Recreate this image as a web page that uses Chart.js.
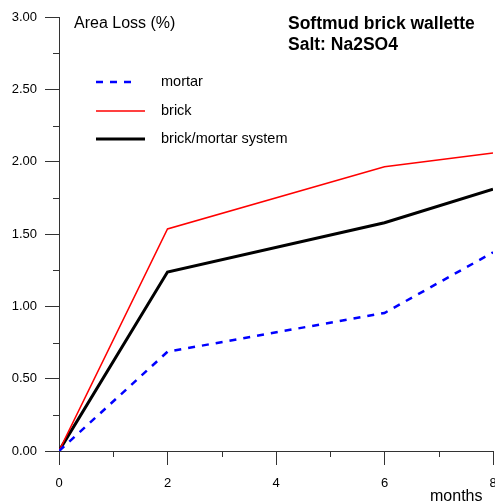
<!DOCTYPE html>
<html><head><meta charset="utf-8">
<script src="https://cdn.jsdelivr.net/npm/chart.js@4/dist/chart.umd.min.js"></script>
<style>html,body{margin:0;padding:0;background:#fff;}#wrap{width:495px;height:503px;}</style>
</head><body><div id="wrap"><canvas id="c" width="495" height="503"></canvas></div>
<script>
const months = [0, 2, 6, 8];
const mortar = [0, 0.686, 0.954, 1.373];
const brick = [0, 1.535, 1.965, 2.06];
const system = [0, 1.237, 1.578, 1.81];
const seriesNames = ['mortar', 'brick', 'brick/mortar system'];
const yLabel = 'Area Loss (%)';
const xLabel = 'months';
const titleLines = ['Softmud brick wallette', 'Salt: Na2SO4'];

const FONT = '"Liberation Sans", Arial, sans-serif';
const AX = '#333';

const toPts = arr => months.map((m, i) => ({x: m, y: arr[i]}));

const decor = {
  id: 'decor',
  afterDraw(chart) {
    const ctx = chart.ctx, xs = chart.scales.x, ys = chart.scales.y;
    ctx.save();
    ctx.strokeStyle = AX; ctx.lineWidth = 1;
    for (let v = 1; v < 8; v += 2) {
      const px = Math.round(xs.getPixelForValue(v)) + 0.5;
      ctx.beginPath(); ctx.moveTo(px, ys.bottom); ctx.lineTo(px, ys.bottom + 6); ctx.stroke();
    }
    for (let v = 0.25; v < 3; v += 0.5) {
      const py = Math.round(ys.getPixelForValue(v)) + 0.5;
      ctx.beginPath(); ctx.moveTo(xs.left, py); ctx.lineTo(xs.left - 6, py); ctx.stroke();
    }
    ctx.fillStyle = '#000';
    ctx.font = '16px ' + FONT; ctx.textBaseline = 'middle'; ctx.textAlign = 'left';
    ctx.fillText(yLabel, 74, 24);
    ctx.fillText(xLabel, 430, 497);
    ctx.font = 'bold 17.5px ' + FONT;
    ctx.fillText(titleLines[0], 288, 24);
    ctx.fillText(titleLines[1], 288, 45);
    const ds = chart.data.datasets;
    const ly = [82, 111, 139];
    const lx2 = [137, 145, 145];
    ctx.font = '14.5px ' + FONT;
    ds.forEach((d, i) => {
      ctx.save();
      ctx.strokeStyle = d.borderColor; ctx.lineWidth = d.borderWidth;
      ctx.setLineDash(d.borderDash || []);
      ctx.beginPath(); ctx.moveTo(96, ly[i]); ctx.lineTo(lx2[i], ly[i]); ctx.stroke();
      ctx.restore();
      ctx.fillText(d.label, 161, ly[i]);
    });
    ctx.restore();
  }
};

new Chart(document.getElementById('c'), {
  type: 'line',
  data: {
    datasets: [
      {label: seriesNames[0], data: toPts(mortar), borderColor: '#0000ff', borderWidth: 2.5, borderDash: [7, 7]},
      {label: seriesNames[1], data: toPts(brick), borderColor: '#ff0000', borderWidth: 1.5},
      {label: seriesNames[2], data: toPts(system), borderColor: '#000000', borderWidth: 3}
    ]
  },
  options: {
    responsive: false, animation: false,
    layout: {padding: {top: 17, right: 2, left: 0, bottom: 0}},
    elements: {point: {radius: 0}, line: {tension: 0, fill: false}},
    plugins: {legend: {display: false}, tooltip: {enabled: false}},
    scales: {
      x: {
        type: 'linear', min: 0, max: 8,
        afterFit: s => { s.height = 52; s.paddingLeft = 0; s.paddingRight = 0; },
        ticks: {stepSize: 2, color: '#000', font: {size: 13, family: FONT}, padding: 11, maxRotation: 0},
        grid: {drawOnChartArea: false, drawTicks: true, tickLength: 14, color: AX, tickColor: AX},
        border: {display: true, color: AX, width: 1}
      },
      y: {
        min: 0, max: 3,
        afterFit: s => { s.width = 59; s.paddingTop = 0; s.paddingBottom = 0; },
        ticks: {stepSize: 0.5, color: '#000', font: {size: 13, family: FONT}, padding: 8, callback: v => v.toFixed(2)},
        grid: {drawOnChartArea: false, drawTicks: true, tickLength: 14, color: AX, tickColor: AX},
        border: {display: true, color: AX, width: 1}
      }
    }
  },
  plugins: [decor]
});
</script></body></html>
